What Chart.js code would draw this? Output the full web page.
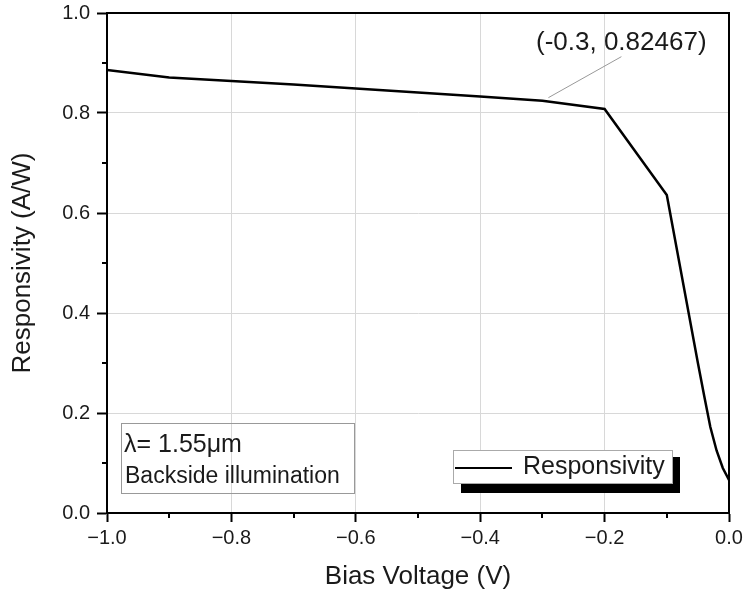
<!DOCTYPE html>
<html><head><meta charset="utf-8">
<script src="https://cdn.jsdelivr.net/npm/chart.js@4/dist/chart.umd.min.js"></script>
<style>html,body{margin:0;padding:0;background:#fff}canvas{display:block}</style>
</head><body>
<canvas id="c" width="744" height="599"></canvas>
<script>
// ---- data ----
const biasVoltage = [-1.0, -0.9, -0.8, -0.7, -0.6, -0.5, -0.4, -0.3, -0.2, -0.1, -0.05, -0.04, -0.03, -0.02, -0.01, 0.0];
const responsivity = [0.886, 0.871, 0.864, 0.857, 0.849, 0.841, 0.833, 0.82467, 0.808, 0.636, 0.30, 0.235, 0.172, 0.125, 0.09, 0.066];
const seriesName = 'Responsivity';
const xTitle = 'Bias Voltage (V)';
const yTitle = 'Responsivity (A/W)';
const xMinorTicks = [-0.9, -0.7, -0.5, -0.3, -0.1];
const yMinorTicks = [0.1, 0.3, 0.5, 0.7, 0.9];
const annotationPoint = [-0.3, 0.82467];
const annotationLabel = '(-0.3, 0.82467)';
const infoLines = ['\u03bb= 1.55\u03bcm', 'Backside illumination'];

const FONT = "'Liberation Sans', Arial, sans-serif";
const fmt = v => { if (Math.abs(v) < 1e-9) v = 0; return v.toFixed(1).replace('-', '\u2212'); };

const decor = {
  id: 'decor',
  afterDraw(chart) {
    const {ctx, chartArea: a, scales: {x, y}} = chart;
    ctx.save();
    // minor ticks
    ctx.strokeStyle = '#000'; ctx.lineWidth = 2;
    ctx.beginPath();
    yMinorTicks.forEach(v => { const py = Math.round(y.getPixelForValue(v)); ctx.moveTo(a.left - 5, py); ctx.lineTo(a.left, py); });
    xMinorTicks.forEach(v => { const px = Math.round(x.getPixelForValue(v)); ctx.moveTo(px, a.bottom); ctx.lineTo(px, a.bottom + 5); });
    ctx.stroke();
    // frame
    ctx.lineWidth = 2;
    ctx.strokeRect(a.left, a.top, a.right - a.left, a.bottom - a.top);

    // annotation
    const px = x.getPixelForValue(annotationPoint[0]);
    const py = y.getPixelForValue(annotationPoint[1]);
    ctx.strokeStyle = '#999'; ctx.lineWidth = 1;
    ctx.beginPath(); ctx.moveTo(px + 6, py - 3); ctx.lineTo(px + 79, py - 44); ctx.stroke();
    ctx.fillStyle = '#1a1a1a';
    ctx.font = '26px ' + FONT;
    ctx.textBaseline = 'middle'; ctx.textAlign = 'left';
    ctx.fillText(annotationLabel, a.left + 429, a.top + 30);

    // info box
    ctx.strokeStyle = '#999'; ctx.lineWidth = 1;
    ctx.strokeRect(a.left + 14.5, a.bottom - 89.5, 233, 70);
    ctx.font = '25px ' + FONT;
    ctx.fillText(infoLines[0], a.left + 17, a.bottom - 68);
    ctx.font = '23px ' + FONT;
    ctx.fillText(infoLines[1], a.left + 18, a.bottom - 36);

    // legend
    const lx = a.left + 346, ly = a.bottom - 63, lw = 219, lh = 33;
    ctx.fillStyle = '#000';
    ctx.fillRect(lx + 8, ly + 7, lw, lh + 3);
    ctx.fillStyle = '#fff';
    ctx.fillRect(lx, ly, lw, lh);
    ctx.strokeStyle = '#aaa'; ctx.lineWidth = 1;
    ctx.strokeRect(lx + 0.5, ly + 0.5, lw, lh);
    ctx.strokeStyle = '#000'; ctx.lineWidth = 2;
    ctx.beginPath(); ctx.moveTo(lx + 2, ly + 18); ctx.lineTo(lx + 59, ly + 18); ctx.stroke();
    ctx.fillStyle = '#1a1a1a';
    ctx.font = '25px ' + FONT;
    ctx.fillText(seriesName, lx + 70, ly + 17);
    ctx.restore();
  }
};

new Chart(document.getElementById('c'), {
  type: 'scatter',
  data: {
    datasets: [{
      label: seriesName,
      data: biasVoltage.map((v, i) => ({x: v, y: responsivity[i]})),
      showLine: true,
      borderColor: '#000',
      borderWidth: 2.5,
      pointRadius: 0,
      tension: 0,
      fill: false
    }]
  },
  options: {
    responsive: false,
    animation: false,
    devicePixelRatio: 1,
    layout: {padding: {top: 13, right: 15, left: 0, bottom: 0}},
    plugins: {legend: {display: false}, tooltip: {enabled: false}},
    scales: {
      x: {
        type: 'linear', min: -1, max: 0,
        ticks: {stepSize: 0.2, callback: v => fmt(v), color: '#1a1a1a', font: {family: FONT, size: 20}, padding: 4, maxRotation: 0},
        grid: {color: '#d8d8d8', lineWidth: 1, tickColor: '#000', tickLength: 9, tickWidth: 2},
        border: {display: true, color: '#000', width: 2},
        title: {display: true, text: xTitle, color: '#1a1a1a', font: {family: FONT, size: 26}, padding: {top: 0, bottom: 7}},
        afterFit: s => { s.height = 86; s.paddingLeft = 0; s.paddingRight = 0; }
      },
      y: {
        type: 'linear', min: 0, max: 1,
        ticks: {stepSize: 0.2, callback: v => fmt(v), color: '#1a1a1a', font: {family: FONT, size: 20}, padding: 7},
        grid: {color: '#d8d8d8', lineWidth: 1, tickColor: '#000', tickLength: 10, tickWidth: 2},
        border: {display: true, color: '#000', width: 2},
        title: {display: true, text: yTitle, color: '#1a1a1a', font: {family: FONT, size: 26}, padding: {top: 7, bottom: 0}},
        afterFit: s => { s.width = 107; s.paddingTop = 0; s.paddingBottom = 0; }
      }
    }
  },
  plugins: [decor]
});
</script>
</body></html>
